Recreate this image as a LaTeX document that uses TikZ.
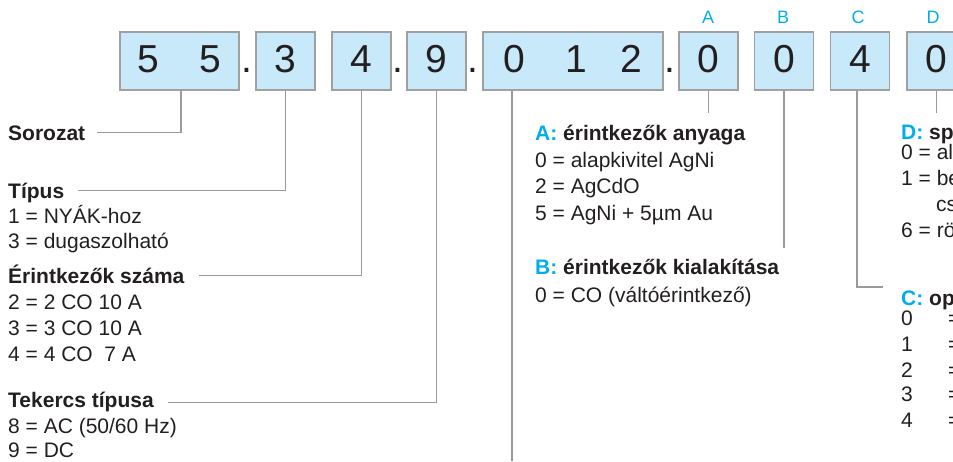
\documentclass[tikz,border=0pt]{standalone}
\usepackage{fontspec}
\setmainfont{Liberation Sans}

\definecolor{boxfill}{HTML}{C7E9F9}
\definecolor{boxline}{HTML}{A0A0A0}
\definecolor{leadline}{HTML}{9A9A9A}
\definecolor{codecyan}{HTML}{00AEEF}
\definecolor{txt}{HTML}{231F20}

\begin{document}
\begin{tikzpicture}[x=1pt,y=-1pt,
	digitbox/.style={draw=boxline, line width=1.2pt, fill=boxfill, minimum height=58pt, inner sep=0pt,
		font=\fontsize{39}{39}\selectfont, text=txt, text height=28pt, text depth=6pt},
	sepdot/.style={anchor=base, inner sep=0pt, font=\fontsize{39}{39}\selectfont, text=txt},
	letter/.style={anchor=base, inner sep=0pt, font=\fontsize{18}{18}\selectfont, text=codecyan},
	head/.style={anchor=base west, inner sep=0pt, font=\fontsize{21}{21}\selectfont\bfseries, text=txt,
		text height=15pt, text depth=0pt},
	item/.style={anchor=base west, inner sep=0pt, font=\fontsize{21}{21}\selectfont, text=txt},
	lead/.style={draw=leadline, line width=1.2pt}]
	\useasboundingbox (0,0) rectangle (953,461);
	\clip (0,0) rectangle (953,461);

	\node[digitbox, minimum width=119pt] (b55) at (179.5,61) {5\hspace{40pt}5};
	\node[sepdot] (dot1) at (247,72) {.};
	\node[digitbox, minimum width=59pt] (b3) at (285.5,61) {3};
	\node[digitbox, minimum width=59pt] (b4) at (361.5,61) {4};
	\node[sepdot] (dot2) at (398,72) {.};
	\node[digitbox, minimum width=59pt] (b9) at (436.5,61) {9};
	\node[sepdot] (dot3) at (473,72) {.};
	\node[digitbox, minimum width=180pt] (b012) at (573,61) {0\hspace{40pt}1\hspace{34pt}2};
	\node[sepdot] (dot4) at (670,72) {.};
	\node[digitbox, minimum width=59pt] (bA) at (708.5,61) {0};
	\node[digitbox, minimum width=59pt] (bB) at (784,61) {0};
	\node[digitbox, minimum width=59pt] (bC) at (860,61) {4};
	\node[digitbox, minimum width=59pt] (bD) at (936.5,61) {0};

	\node[letter] (lblA) at (708,23) {A};
	\node[letter] (lblB) at (783,23) {B};
	\node[letter] (lblC) at (858,23) {C};
	\node[letter] (lblD) at (933,23) {D};

	\node[head] (lblSor) at (8,140) {Sorozat};

	\node[head] (lblTip) at (8,198) {Típus};
	\node[item] (tip1) at (8,223) {1 = NYÁK-hoz};
	\node[item] (tip3) at (8,248) {3 = dugaszolható};

	\node[head] (lblErSz) at (8,283) {Érintkezők száma};
	\node[item] (ersz2) at (8,309) {2 = 2 CO 10 A};
	\node[item] (ersz3) at (8,335) {3 = 3 CO 10 A};
	\node[item] (ersz4) at (8,361) {4 = 4 CO\ \ 7 A};

	\node[head] (lblTek) at (8,407) {Tekercs típusa};
	\node[item] (tek8) at (8,433) {8 = AC (50/60 Hz)};
	\node[item] (tek9) at (8,457) {9 = DC};

	\node[head] (lblAnyag) at (535,140) {{\color{codecyan}A:} érintkezők anyaga};
	\node[item] (anyag0) at (535,167) {0 = alapkivitel AgNi};
	\node[item] (anyag2) at (535,193) {2 = AgCdO};
	\node[item] (anyag5) at (535,220) {5 = AgNi + 5µm Au};

	\node[head] (lblKial) at (535,274) {{\color{codecyan}B:} érintkezők kialakítása};
	\node[item] (kial0) at (535,302) {0 = CO (váltóérintkező)};

	\node[head] (lblSp) at (901,139) {{\color{codecyan}D:} sp};
	\node[item] (sp0) at (901,159) {0 = al};
	\node[item] (sp1) at (901,185) {1 = be};
	\node[item] (sp1b) at (936,211) {cs};
	\node[item] (sp6) at (901,237) {6 = rö};

	\node[head] (lblOp) at (901,305) {{\color{codecyan}C:} op};
	\node[item] (op0) at (901,325) {\makebox[47pt][l]{0}=};
	\node[item] (op1) at (901,351) {\makebox[47pt][l]{1}=};
	\node[item] (op2) at (901,377) {\makebox[47pt][l]{2}=};
	\node[item] (op3) at (901,401) {\makebox[47pt][l]{3}=};
	\node[item] (op4) at (901,427) {\makebox[47pt][l]{4}=};

	\coordinate (end012) at (512,461);
	\coordinate (endA) at (708.5,113);
	\coordinate (endB) at (784,248);
	\coordinate (endC) at (883,287);
	\coordinate (endD) at (936.5,113);

	\draw[lead] ([xshift=1.5pt]b55.south) |- ([xshift=12pt]lblSor.east);
	\draw[lead] (b3.south) |- ([xshift=14pt]lblTip.east);
	\draw[lead] (b4.south) |- ([xshift=14pt]lblErSz.east);
	\draw[lead] (b9.south) |- ([xshift=14pt,yshift=-3pt]lblTek.east);
	\draw[lead] (b012.south -| end012) -- (end012);
	\draw[lead] (bA.south) -- (endA);
	\draw[lead] (bB.south) -- (endB);
	\draw[lead] ([xshift=-3pt]bC.south) |- (endC);
	\draw[lead] (bD.south) -- (endD);
\end{tikzpicture}
\end{document}
